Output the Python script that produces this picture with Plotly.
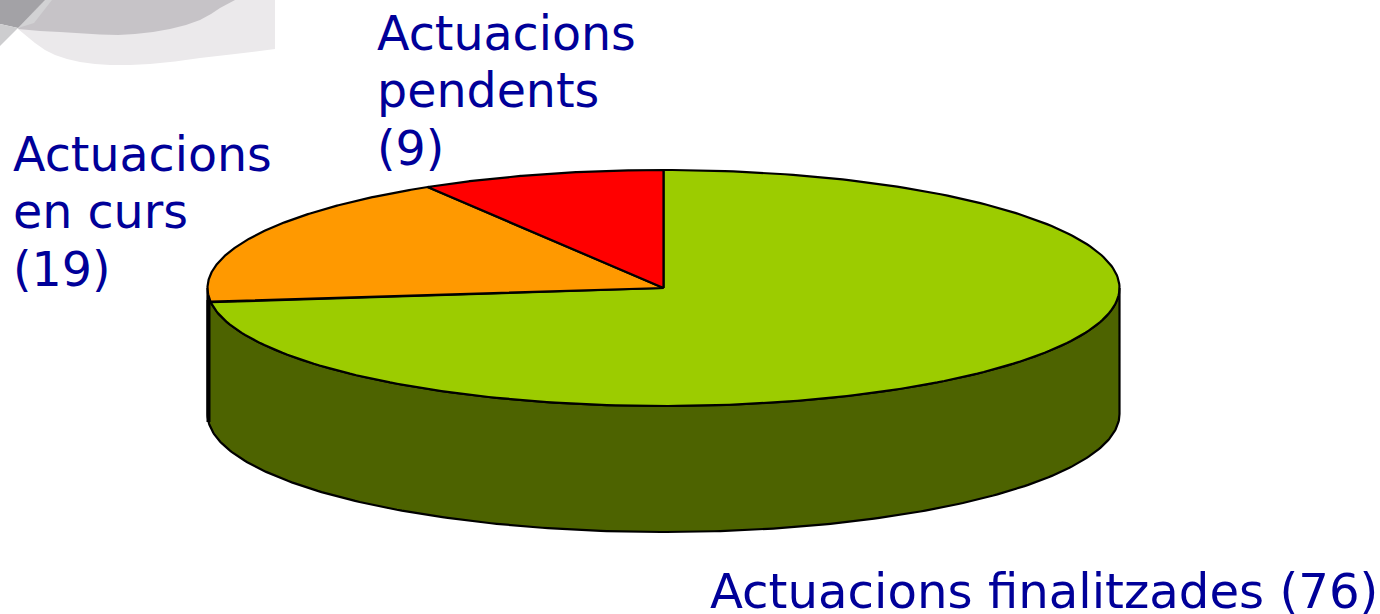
import numpy as np
import plotly.graph_objects as go

categories = ["Actuacions finalitzades", "Actuacions en curs", "Actuacions pendents"]
values = [76, 19, 9]
colors = ["#9ccc00", "#ff9900", "#ff0000"]
wall_color = "#4d6300"
text_color = "#000099"

label_lines = [
    ["Actuacions", "pendents", "(9)"],
    ["Actuacions", "en curs", "(19)"],
    ["Actuacions finalitzades (76)"],
]
label_x = [375, 11, 708]
label_y = [33, 154, 591]
label_size = [47.5, 47.5, 48.2]
line_gap = 57.5

W, H = 1380, 614
cx, cy, rx, ry, depth = 663.5, 288, 456, 118, 126


def rim(a0, a1, n=240, dy=0):
    t = np.radians(np.linspace(a0, a1, n))
    return cx + rx * np.sin(t), cy - ry * np.cos(t) + dy


fig = go.Figure()

# faint background decoration, top-left corner
deco = [
    ("#ebe9eb",
     [18, 26, 35, 45, 55, 67, 80, 95, 110, 130, 150, 175, 200, 235, 275, 275, 18],
     [29, 36, 43, 50, 55, 59, 62, 64, 65, 65, 64, 61.5, 58, 54, 49, 0, 0]),
    ("#c6c3c7",
     [18, 40, 60, 80, 100, 118, 135, 153, 170, 186, 200, 211, 220, 235, 45, 18],
     [29, 31, 32, 33.5, 34.5, 35, 34, 32, 29, 25, 20, 14, 8, 0, 0, 29]),
    ("#d2d2d4", [45, 52, 34, 18], [0, 0, 23, 28]),
    ("#a3a2a6", [0, 45, 18, 0], [0, 0, 28, 24]),
    ("#cdcdcf", [0, 18, 0], [24, 28, 46]),
]
for col, xs, ys in deco:
    fig.add_trace(go.Scatter(x=xs, y=ys, mode="lines", fill="toself", fillcolor=col,
                             line=dict(width=0, color=col), hoverinfo="skip"))

# side wall of the pie (front half of the rim, extruded downward)
x_top, y_top = rim(90, 270)
x_bot, y_bot = rim(90, 270, dy=depth)
fig.add_trace(go.Scatter(
    x=np.r_[x_bot, x_top[::-1], x_bot[0]], y=np.r_[y_bot, y_top[::-1], y_bot[0]],
    mode="lines", fill="toself", fillcolor=wall_color,
    line=dict(color="black", width=2.2), hoverinfo="skip"))
# heavier left edge of the wall
fig.add_trace(go.Scatter(
    x=[cx - rx + 1, cx - rx + 1], y=[cy + 12, cy + depth + 8], mode="lines",
    line=dict(color="black", width=4), hoverinfo="skip"))

# top face: wedges start at 12 o'clock and run clockwise
total = sum(values)
angle = 0.0
for name, v, col in zip(categories, values, colors):
    sweep = 360.0 * v / total
    xs, ys = rim(angle, angle + sweep)
    fig.add_trace(go.Scatter(
        x=np.r_[cx, xs, cx], y=np.r_[cy, ys, cy], mode="lines", fill="toself",
        fillcolor=col, line=dict(color="black", width=2.2), name=name, hoverinfo="name"))
    angle += sweep

for lines, lx, ly, size in zip(label_lines, label_x, label_y, label_size):
    for i, line in enumerate(lines):
        fig.add_annotation(x=lx, y=ly + i * line_gap, text=line, showarrow=False,
                           xanchor="left", yanchor="middle",
                           font=dict(family="DejaVu Sans", size=size, color=text_color))

fig.update_layout(
    width=W, height=H, margin=dict(l=0, r=0, t=0, b=0), showlegend=False,
    paper_bgcolor="white", plot_bgcolor="white",
    xaxis=dict(range=[0, W], visible=False, fixedrange=True),
    yaxis=dict(range=[H, 0], visible=False, fixedrange=True),
)
fig.write_html("out.html", config={"displayModeBar": False},
               post_script="document.body.style.margin='0';document.body.style.overflow='hidden';")
